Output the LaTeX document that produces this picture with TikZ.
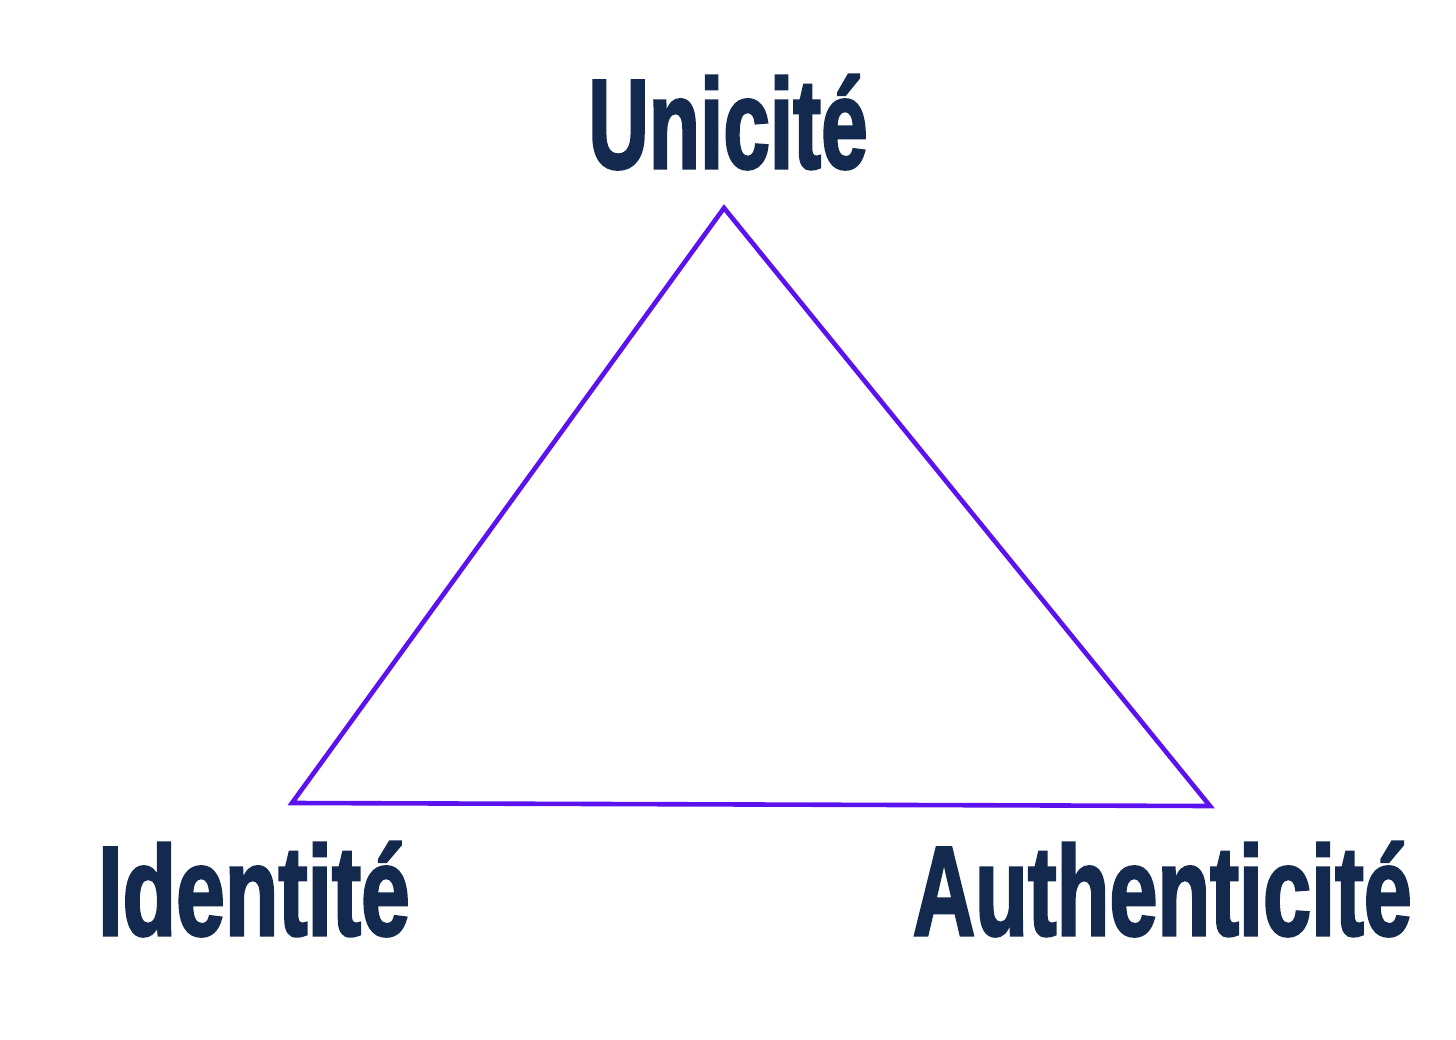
\documentclass[tikz,border=0pt]{standalone}
\usepackage{fontspec}
\setmainfont{Liberation Sans}
\newfontfamily\heavyfont{Liberation Sans}[BoldFeatures={FakeBold=2.5}]
\definecolor{navy}{HTML}{132A4E}
\definecolor{violet}{HTML}{5B12EE}
\tikzset{
  lbl/.style={inner sep=0pt, text=navy, font=\heavyfont\fontsize{127}{130}\selectfont\bfseries},
  edge/.style={draw=violet, line width=4.6pt, line join=miter}
}
\begin{document}
\begin{tikzpicture}[x=1pt,y=-1pt]
\useasboundingbox[fill=white] (0,0) rectangle (1456,1040);
\coordinate (T) at (724,208);
\coordinate (L) at (292,803);
\coordinate (R) at (1210,806);
\draw[edge] (T) -- (R) -- (L) -- cycle;
\node[lbl, anchor=base] (u) at (728,168) {\scalebox{0.66}[1]{Unicité}};
\node[lbl, anchor=base west] (i) at (98,935) {\scalebox{0.69}[1]{Identité}};
\node[lbl, anchor=base east] (a) at (1412,935) {\scalebox{0.68}[1]{Authenticité}};
\end{tikzpicture}
\end{document}
